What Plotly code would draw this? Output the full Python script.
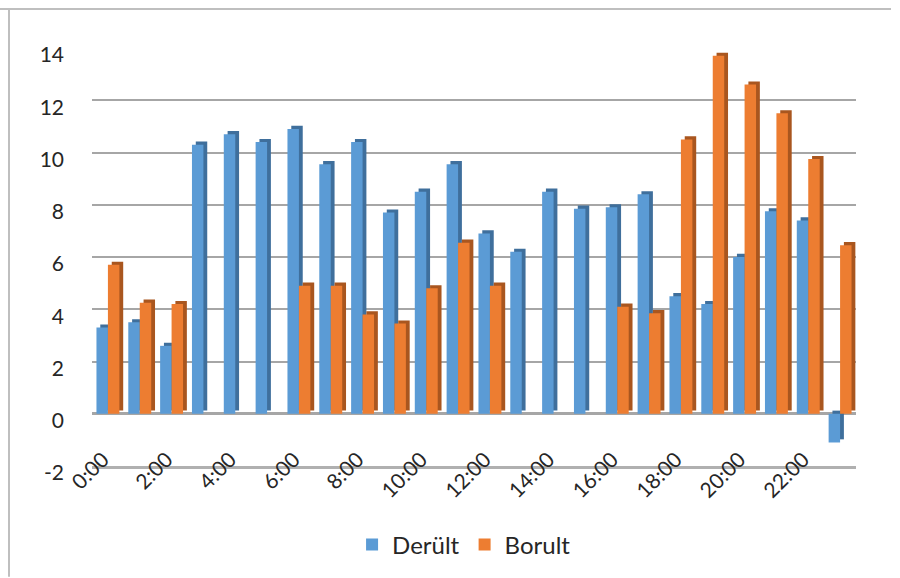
import plotly.graph_objects as go

hours = [f"{h}:00" for h in range(24)]
derult = [3.3, 3.5, 2.6, 10.3, 10.7, 10.4, 10.9, 9.55, 10.4, 7.7, 8.5, 9.55,
          6.9, 6.2, 8.5, 7.85, 7.9, 8.4, 4.5, 4.2, 6.0, 7.75, 7.4, -1.1]
borult = [5.7, 4.25, 4.2, None, None, None, 4.9, 4.9, 3.8, 3.45, 4.8, 6.55,
          4.9, None, None, None, 4.1, 3.85, 10.5, 13.7, 12.6, 11.5, 9.75, 6.45]
tick_labels = hours[::2]
y_ticks = [-2, 0, 2, 4, 6, 8, 10, 12, 14]
y_tick_text = [str(v) for v in y_ticks]

BLUE, BLUE_D = "#5B9BD5", "#3F6F9C"
ORANGE, ORANGE_D = "#ED7D31", "#A9561F"
FONT = "Lato, 'Open Sans', sans-serif"

W = 0.36       # bar width in category units
SX = 0.12      # side-face shift (x, category units)
SY = 0.12      # top-face shift (y, value units)

fig = go.Figure()
fig.add_trace(go.Bar(x=hours, y=derult, base=SY, offset=-W + SX, width=W,
                     marker=dict(color=BLUE_D, line=dict(width=0)),
                     showlegend=False, hoverinfo="skip"))
fig.add_trace(go.Bar(x=hours, y=derult, offset=-W, width=W, name="Derült",
                     marker=dict(color=BLUE, line=dict(width=0))))
fig.add_trace(go.Bar(x=hours, y=borult, base=SY, offset=SX, width=W,
                     marker=dict(color=ORANGE_D, line=dict(width=0)),
                     showlegend=False, hoverinfo="skip"))
fig.add_trace(go.Bar(x=hours, y=borult, offset=0, width=W, name="Borult",
                     marker=dict(color=ORANGE, line=dict(width=0))))

fig.update_layout(
    width=900, height=578,
    barmode="overlay",
    paper_bgcolor="white", plot_bgcolor="white",
    margin=dict(l=92, r=44, t=48, b=111),
    font=dict(family=FONT, size=21, color="#262626"),
    legend=dict(orientation="h", x=0.487, xanchor="center",
                y=-0.186, yanchor="middle", font=dict(size=24),
                traceorder="normal", itemwidth=30),
    xaxis=dict(type="category", categoryorder="array", categoryarray=hours,
               range=[-0.5, 23.5], tickmode="array",
               tickvals=tick_labels, ticktext=tick_labels,
               tickangle=-45, showgrid=False, showline=True,
               linecolor="#B0B0B0", linewidth=3, ticks="",
               ticklabelshift=-5, ticklabelstandoff=-30,
               tickfont=dict(size=21)),
    yaxis=dict(range=[-2, 14], tickmode="array", tickvals=y_ticks,
               ticktext=y_tick_text, showgrid=True, gridcolor="#A6A6A6",
               gridwidth=2, zeroline=True, zerolinecolor="#A6A6A6",
               zerolinewidth=3, showline=False, ticks="",
               ticklabelstandoff=27, ticklabelshift=7,
               tickfont=dict(size=21)),
    shapes=[
        dict(type="line", xref="paper", yref="paper", x0=-92/764, x1=-92/764 + 891/764,
             y0=1 + 39/419, y1=1 + 39/419, line=dict(color="#BFBFBF", width=2)),
        dict(type="line", xref="paper", yref="paper", x0=-83/764, x1=-83/764,
             y0=1 + 39/419, y1=-111/419, line=dict(color="#BFBFBF", width=2)),
    ],
)

fig.write_html("out.html")
